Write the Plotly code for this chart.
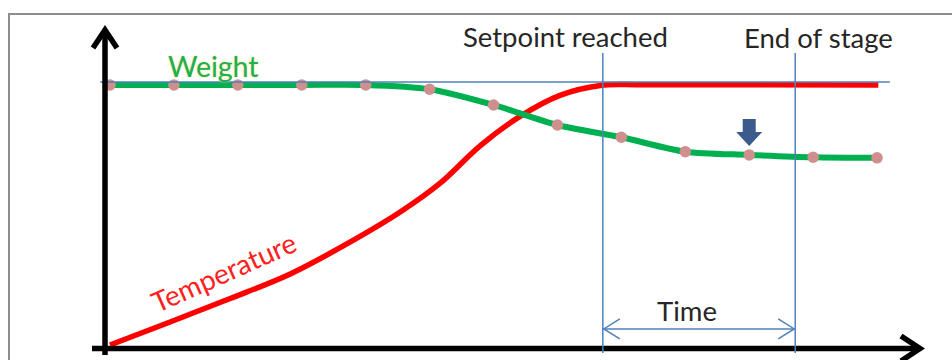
import plotly.graph_objects as go

W, H = 952, 360

# time in sampling steps (one dot per step), values in % of the setpoint level
weight_t = list(range(13))
weight_v = [98.9, 98.9, 98.9, 98.9, 98.9, 97.3, 91.4, 83.9, 79.3, 73.9, 72.7, 71.8, 71.6]

temp_t = [0, 0.94, 1.88, 2.82, 3.76, 4.54, 5.16, 5.79, 6.42, 7.04, 7.67, 8.29, 12.02]
temp_v = [1.5, 10.1, 18.9, 28.1, 40.1, 51.3, 62.0, 76.1, 87.2, 95.0, 98.7, 99.0, 98.9]

setpoint_level = 100
setpoint_span = [-0.15, 12.2]
event_t = [7.71, 10.72]
event_labels = ["Setpoint reached", "End of stage"]
marked_step = 10
time_arrow_level = 7.5

# pixel placement of the data origin and scale
X_PX0, X_K = 110, 63.92
Y_PX0, Y_K = 349, 2.67

FONT = "Lato"
TXT = "#262626"
BLUE = "#4f81bd"


def fx(px):
    return px / W


def fy(py):
    return 1 - py / H


def tx(t):
    return X_PX0 + t * X_K


def path(points, close=False):
    s = "M " + " L ".join(f"{fx(x):.5f},{fy(y):.5f}" for x, y in points)
    return s + (" Z" if close else "")


def seg(x0, y0, x1, y1, color, width):
    return dict(type="line", x0=fx(x0), y0=fy(y0), x1=fx(x1), y1=fy(y1),
                line=dict(color=color, width=width))


fig = go.Figure()
fig.add_trace(go.Scatter(
    x=temp_t, y=temp_v, mode="lines",
    line=dict(color="#ff0000", width=5.5, shape="spline", smoothing=1.0),
    hoverinfo="skip",
))
fig.add_trace(go.Scatter(
    x=weight_t, y=weight_v, mode="lines+markers",
    line=dict(color="#00b050", width=6, shape="spline", smoothing=0.8),
    marker=dict(color="#cf8f8f", size=11.5),
    hoverinfo="skip",
))

shapes = [
    # frame (top and left edges only, the picture is cropped on the other sides)
    seg(9, 13, 9, 362, "#8c8c8c", 2),
    seg(8, 14, 952, 14, "#8c8c8c", 2),
    # setpoint reference
    dict(type="line", xref="x", yref="y", x0=setpoint_span[0], x1=setpoint_span[1],
         y0=setpoint_level, y1=setpoint_level, line=dict(color=BLUE, width=1.5)),
    # axes
    seg(105, 355, 105, 30, "black", 5.5),
    dict(type="path", path=path([(93, 48), (105, 30), (117, 48)]), line=dict(color="black", width=5.5)),
    seg(92, 348.5, 919, 348.5, "black", 5.5),
    dict(type="path", path=path([(901, 336), (920, 348.5), (901, 361)]), line=dict(color="black", width=5.5)),
]
for t in event_t:
    shapes.append(dict(type="line", xref="x", yref="paper", x0=t, x1=t,
                       y0=fy(353), y1=fy(53), line=dict(color=BLUE, width=1.5)))

# time span double arrow
ya = Y_PX0 - time_arrow_level * Y_K
xa, xb = tx(event_t[0]), tx(event_t[1])
shapes += [
    seg(xa, ya, xb, ya, BLUE, 1.5),
    dict(type="path", path=path([(xa + 17, ya - 10), (xa + 1, ya), (xa + 17, ya + 10)]),
         line=dict(color=BLUE, width=1.5)),
    dict(type="path", path=path([(xb - 17, ya - 10), (xb - 1, ya), (xb - 17, ya + 10)]),
         line=dict(color=BLUE, width=1.5)),
]

# block arrow pointing at the marked dot
mx = tx(marked_step)
shapes.append(dict(
    type="path",
    path=path([(mx - 6.5, 119), (mx + 6.5, 119), (mx + 6.5, 132), (mx + 13, 132),
               (mx, 146), (mx - 13, 132), (mx - 6.5, 132)], close=True),
    fillcolor="#3b5b8c", line=dict(width=0),
))

annotations = [
    dict(text=event_labels[0], x=fx(565), y=fy(37), font=dict(size=27.5, color=TXT)),
    dict(text=event_labels[1], x=fx(818), y=fy(38), font=dict(size=27.5, color=TXT)),
    dict(text="Weight", x=fx(213), y=fy(66),
         font=dict(size=28.5, color="#1fae5c", shadow="0px 0px 2px #e8e040")),
    dict(text="Temperature", x=fx(223), y=fy(272), textangle=-24,
         font=dict(size=28, color="#ff2020")),
    dict(text="Time", x=fx(687), y=fy(310), font=dict(size=27.5, color=TXT)),
]
for a in annotations:
    a.update(xref="paper", yref="paper", showarrow=False, xanchor="center", yanchor="middle")
    a["font"].setdefault("family", FONT)

fig.update_layout(
    width=W, height=H,
    margin=dict(l=0, r=0, t=0, b=0, pad=0),
    paper_bgcolor="#FFFFFF",
    plot_bgcolor="#FFFFFF",
    showlegend=False,
    xaxis=dict(range=[-X_PX0 / X_K, (W - X_PX0) / X_K], visible=False, fixedrange=True),
    yaxis=dict(range=[(Y_PX0 - H) / Y_K, Y_PX0 / Y_K], visible=False, fixedrange=True),
    shapes=[dict(s, layer="above", **({} if "xref" in s else dict(xref="paper", yref="paper")))
            for s in shapes],
    annotations=annotations,
)

fig.write_html(
    "out.html",
    post_script="document.body.style.margin='0px';document.body.style.overflow='hidden';",
    config=dict(displayModeBar=False),
)
